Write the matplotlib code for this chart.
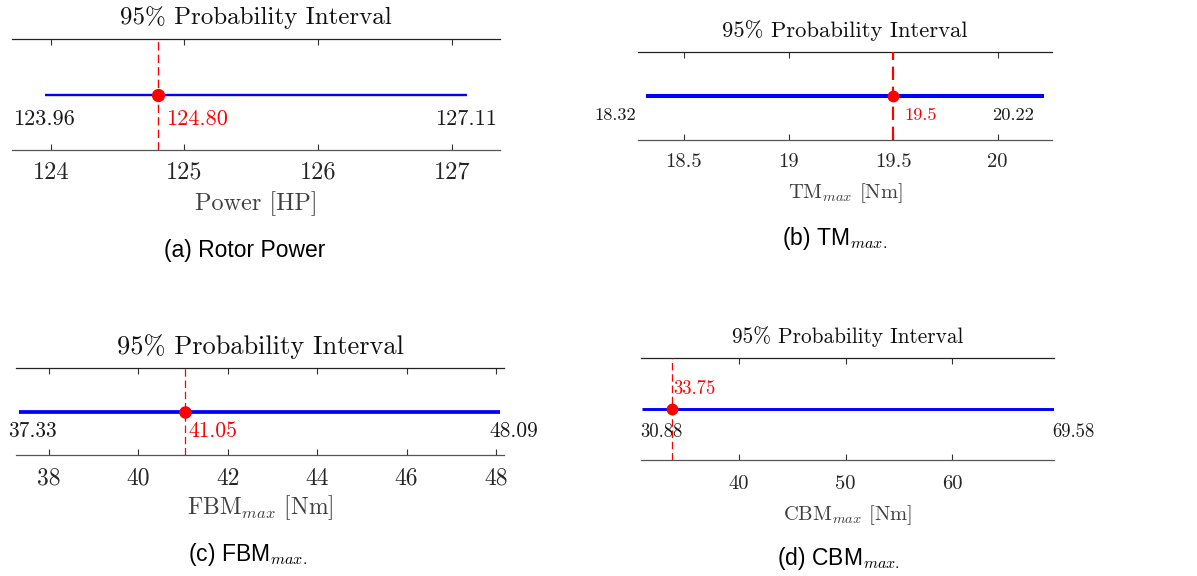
import matplotlib
matplotlib.use("Agg")
import matplotlib.pyplot as plt

plt.rcParams['font.family'] = ['cmr10', 'DejaVu Serif']
plt.rcParams['mathtext.fontset'] = 'cm'
plt.rcParams['axes.unicode_minus'] = False

# data for the four panels
xlabels = ['Power [HP]', r'TM$_{max}$ [Nm]', r'FBM$_{max}$ [Nm]', r'CBM$_{max}$ [Nm]']
captions = ['(a) Rotor Power', r'(b) TM$_{max.}$', r'(c) FBM$_{max.}$', r'(d) CBM$_{max.}$']
lower = [123.96, 18.32, 37.33, 30.88]
upper = [127.11, 20.22, 48.09, 69.58]
mean = [124.80, 19.5, 41.05, 33.75]
mean_txt = ['124.80', '19.5', '41.05', '33.75']
xlims = [(123.71, 127.36), (18.28, 20.26), (37.26, 48.18), (30.8, 69.56)]
ticks = [[124, 125, 126, 127], [18.5, 19, 19.5, 20], [38, 40, 42, 44, 46, 48], [40, 50, 60]]

# layout / style (pixel boxes: x0, y0, x1, y1 from top-left)
W, H = 1197, 576
boxes = [(12, 39, 500, 150), (638, 52, 1052, 140), (16, 368, 504, 455), (641, 358, 1054, 460)]
cap_pos = [(245, 250), (835, 238), (248, 555), (838, 558)]
title_fs = [18, 16.3, 19, 15.3]
tick_fs = [17.5, 14.8, 17, 14.8]
note_fs = [16, 13.3, 15.5, 13.5]
blue_lw = [1.7, 2.9, 2.7, 2.1]
red_lw = [1.0, 1.6, 0.9, 0.9]
msize = [8.5, 7.5, 8, 7.5]
tick_pad = [8.5, 9.2, 9.2, 10.6]
xlab_pad = [5.6, 7.8, 2.7, 7.8]
end_off = [-32, -52, -11, -2]     # label offsets of the interval ends
mean_off = [8, 11, 3, 1]
mean_above = [False, False, False, True]

fig = plt.figure(figsize=(W / 100, H / 100), dpi=100)

for i in range(4):
    x0, y0, x1, y1 = boxes[i]
    ax = fig.add_axes([x0 / W, 1 - y1 / H, (x1 - x0) / W, (y1 - y0) / H])

    ax.plot([lower[i], upper[i]], [0, 0], color='#0000ff', lw=blue_lw[i],
            solid_capstyle='butt', zorder=2)
    ax.axvline(mean[i], color='#ff0000', lw=red_lw[i], ls=(0, (6, 3)), zorder=3)
    ax.plot(mean[i], 0, 'o', color='#ff0000', ms=msize[i], zorder=4)

    for v in (lower[i], upper[i]):
        ax.annotate('%.2f' % v, xy=(v, -0.45), xytext=(end_off[i], 0),
                    textcoords='offset pixels', ha='left', va='center',
                    fontsize=note_fs[i], color='#1a1a1a')
    ym = 0.4 if mean_above[i] else -0.45
    ax.annotate(mean_txt[i], xy=(mean[i], ym), xytext=(mean_off[i], 0),
                textcoords='offset pixels', ha='left', va='center',
                fontsize=note_fs[i], color='#ff0000')

    ax.set_xlim(*xlims[i])
    ax.set_ylim(-1, 1)
    ax.set_yticks([])
    ax.set_xticks(ticks[i])
    ax.set_xticklabels(['%g' % t for t in ticks[i]])
    ax.tick_params(axis='x', direction='in', top=True, bottom=True, length=4,
                   width=0.8, labelsize=tick_fs[i], labelcolor='#262626',
                   color='#333333', pad=tick_pad[i])
    for s in ('left', 'right'):
        ax.spines[s].set_visible(False)
    ax.spines['top'].set_color('#222222')
    ax.spines['bottom'].set_color('#555555')
    ax.spines['top'].set_linewidth(0.9)
    ax.spines['bottom'].set_linewidth(0.9)

    ax.set_xlabel(xlabels[i], fontsize=tick_fs[i], color='#404040', labelpad=xlab_pad[i])
    ax.annotate('95% Probability Interval', xy=(0.5, 1), xycoords='axes fraction',
                xytext=(0, 21), textcoords='offset pixels', ha='center', va='center',
                fontsize=title_fs[i], color='#111111')

    cx, cy = cap_pos[i]
    fig.text(cx / W, 1 - cy / H, captions[i], ha='center', va='center',
             fontsize=16.5, family=['Liberation Sans', 'DejaVu Sans'], color='black')

fig.savefig('out.png', dpi=100)
